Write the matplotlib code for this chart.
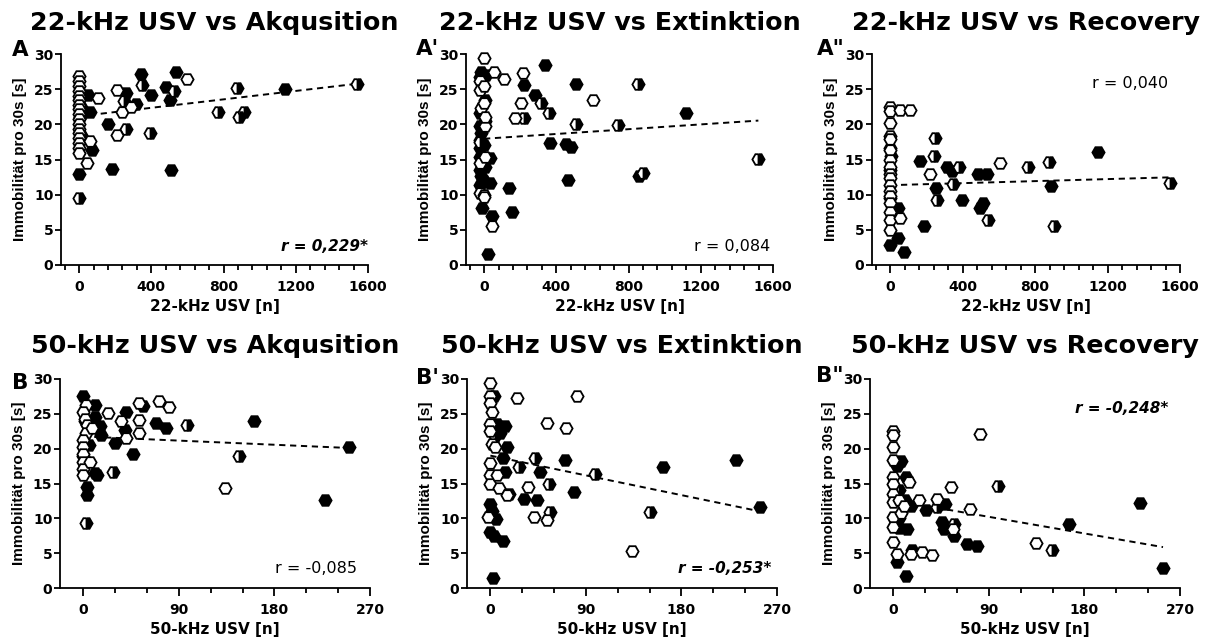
import matplotlib
matplotlib.use("Agg")
import matplotlib.pyplot as plt
import numpy as np

plt.rcParams['font.family'] = ['DejaVu Sans']

# ---------------- data ----------------
# Panel A: 22-kHz USV vs Akquisition
A_filled_x = [0, 50, 60, 72, 161, 180, 259, 317, 345, 400, 483, 501, 510, 538, 1140, 8, 12, 5]
A_filled_y = [12.9, 24.2, 21.8, 16.3, 20.1, 13.6, 24.4, 22.9, 27.2, 24.1, 25.3, 23.4, 13.5, 27.5, 25.0, 22.5, 18.5, 21.0]
A_open_x = [0, 0, 0, 0, 0, 0, 0, 0, 0, 0, 0, 0, 0, 0, 0, 0, 0, 105, 60, 46, 211, 211, 240, 290, 598]
A_open_y = [26.9, 26.1, 25.4, 24.7, 24.0, 23.4, 22.8, 22.2, 21.4, 20.8, 20.1, 19.4, 18.8, 18.0, 17.3, 16.6, 15.9,
            23.8, 17.6, 14.5, 24.9, 18.5, 21.8, 22.5, 26.4]
A_half_x = [0, 248, 259, 350, 391, 528, 767, 877, 883, 914, 1541]
A_half_y = [9.5, 23.3, 19.3, 25.6, 18.7, 24.8, 21.8, 25.1, 21.0, 21.8, 25.8]

# Panel A': 22-kHz USV vs Extinktion
A2_filled_x = [-15, -20, -20, -20, -15, -20, -20, -20, -20, -15, -20, -10, 10, 5, 5, 0, 5, 0,
               33, 33, 46, 20, 138, 152, 222, 284, 336, 363, 455, 483, 464, 510, 859, 1116]
A2_filled_y = [27.5, 26.8, 21.6, 19.7, 18.7, 17.8, 16.6, 15.4, 13.5, 12.6, 11.4, 8.1, 27.0, 23.5, 20.5, 17.0, 14.0, 12.0,
               15.2, 11.6, 6.9, 1.6, 10.9, 7.6, 25.6, 24.2, 28.5, 17.3, 17.2, 16.8, 12.1, 25.7, 12.6, 21.6]
A2_open_x = [0, -20, -20, -15, -20, -20, 0, 5, 0, 5, 5, 57, 112, 46, 171, 217, 207, 602, 0, 0]
A2_open_y = [29.4, 26.2, 24.9, 22.3, 14.5, 10.2, 10.0, 19.7, 23.0, 21.1, 15.4, 27.5, 26.4, 5.5, 20.9, 27.3, 23.1, 23.5, 25.5, 9.7]
A2_half_x = [222, 317, 360, 507, 740, 850, 881, 1519, -20]
A2_half_y = [20.9, 23.0, 21.6, 20.1, 19.9, 25.8, 13.1, 15.1, 17.5]

# Panel A'': 22-kHz USV vs Recovery
A3_open_x = [0, 0, 0, 0, 0, 0, 0, 0, 0, 0, 0, 0, 0, 0, 0, 0, 0, 55, 110, 55, 221, 607]
A3_open_y = [22.4, 21.9, 20.2, 18.3, 17.9, 16.4, 15.0, 14.0, 13.0, 12.3, 11.4, 10.5, 9.8, 8.8, 7.6, 6.4, 5.0,
             22.1, 22.1, 6.7, 12.9, 14.5]
A3_filled_x = [0, 0, 0, 0, 5, 46, 46, 74, 167, 186, 254, 312, 340, 395, 487, 533, 496, 515, 886, 1149]
A3_filled_y = [2.9, 16.7, 9.5, 13.5, 15.5, 8.1, 3.8, 1.8, 14.8, 5.6, 11.0, 14.0, 13.3, 9.3, 13.0, 13.0, 8.1, 8.8, 11.3, 16.0]
A3_half_x = [248, 243, 261, 349, 382, 539, 763, 879, 906, 1544]
A3_half_y = [18.1, 15.5, 9.3, 11.5, 14.0, 6.4, 14.0, 14.7, 5.5, 11.7]

# Panel B: 50-kHz USV vs Akquisition
B_filled_x = [0, 11, 11, 15.5, 17, 3.7, 3.7, 11, 12.4, 29.5, 39, 40, 46.6, 56, 68, 77.6, 161, 228, 250, 2, 5, 0]
B_filled_y = [27.5, 26.2, 24.6, 23.2, 22.0, 14.5, 13.3, 16.5, 16.2, 20.8, 22.7, 25.2, 19.3, 26.1, 23.7, 22.9, 23.9, 12.6, 20.3, 24.0, 20.5, 19.0]
B_open_x = [2.5, 0, 2, 3.7, 2.5, 0, 0, 0, 0, 0, 0, 6, 23, 35.7, 40, 52.8, 52.8, 52, 71, 80.7, 133.5, 8]
B_open_y = [26.2, 25.2, 24.3, 23.4, 22.2, 21.3, 20.2, 19.2, 18.1, 17.1, 16.2, 18.1, 25.1, 23.9, 21.5, 26.6, 24.1, 22.2, 26.8, 26.0, 14.4, 23.0]
B_half_x = [2.5, 28, 97.8, 147]
B_half_y = [9.4, 16.7, 23.4, 19.0]

# Panel B': 50-kHz USV vs Extinktion
B2_open_x = [0, 0, 0, 2, 0, 0, 2, 0, 0, 0, -2, 4.7, 6.3, 7.8, 15.7, 25.1, 35.5, 40.8, 53.4, 53.4, 71.3, 81.6, 133]
B2_open_y = [29.4, 27.6, 26.6, 25.2, 23.5, 22.6, 20.6, 17.9, 16.2, 15.0, 10.2, 20.3, 16.2, 14.3, 13.3, 27.3, 14.5, 10.2, 23.7, 9.7, 23.0, 27.6, 5.3]
B2_filled_x = [3, 6.3, 9.4, 14.1, 15.7, 11.6, 14.1, 0, 2, 0, 3, 5.3, 11.6, 2.2, 17.3, 31.4, 44, 47, 70, 78.5, 163, 231, 254]
B2_filled_y = [27.6, 23.5, 22.3, 23.2, 20.3, 18.6, 16.7, 12.1, 11.1, 8.0, 7.5, 9.9, 6.8, 1.5, 13.5, 12.8, 12.6, 16.7, 18.4, 13.8, 17.3, 18.4, 11.6]
B2_half_x = [26.7, 42.4, 55, 56.5, 98.9, 150, 4]
B2_half_y = [17.4, 18.6, 15.0, 10.9, 16.4, 10.9, 21.8]

# Panel B'': 50-kHz USV vs Recovery
B3_open_x = [0, 0, 0, 0, 0, 0, 0, 0, 0, 0, 0, 3.8, 5.3, 14.7, 16.3, 27.2, 36.6, 7.5, 10, 24, 41, 54, 56, 72, 82, 134]
B3_open_y = [22.6, 21.9, 20.2, 18.4, 15.9, 15.0, 13.5, 12.3, 10.2, 8.7, 6.6, 4.9, 12.6, 15.2, 4.9, 5.2, 4.7, 10.7, 11.8, 12.6, 12.8, 14.5, 8.5, 11.4, 22.1, 6.4]
B3_filled_x = [6.9, 3, 11.6, 5.3, 5.3, 12.5, 3.1, 11.6, 17.9, 16.3, 11, 31, 49, 46, 47.6, 57, 69, 79, 165, 232, 254]
B3_filled_y = [18.3, 17.5, 15.9, 10.1, 8.6, 8.5, 3.7, 1.7, 5.4, 11.8, 12.6, 11.2, 12.1, 9.5, 8.5, 7.5, 6.3, 6.0, 9.2, 12.2, 2.8]
B3_half_x = [41, 57, 99, 149, 5]
B3_half_y = [11.6, 9.2, 14.7, 5.4, 14.0]

# regression lines: intercept, slope
fit_intercept = [21.15, 17.95, 11.35, 21.75, 19.0, 12.6]
fit_slope = [0.0030, 0.0017, 0.00072, -0.0066, -0.0315, -0.0265]

titles = ["22-kHz USV vs Akqusition", "22-kHz USV vs Extinktion", "22-kHz USV vs Recovery",
          "50-kHz USV vs Akqusition", "50-kHz USV vs Extinktion", "50-kHz USV vs Recovery"]
letters = ["A", "A'", 'A"', "B", "B'", 'B"']
r_texts = ["r = 0,229*", "r = 0,084", "r = 0,040", "r = -0,085", "r = -0,253*", "r = -0,248*"]
r_signif = [True, False, False, False, True, True]
xlabels = ["22-kHz USV [n]"] * 3 + ["50-kHz USV [n]"] * 3
ylabel = "Immobilität pro 30s [s]"
x_ticks_top = [0, 400, 800, 1200, 1600]
x_ticks_bottom = [0, 90, 180, 270]
y_ticks = [0, 5, 10, 15, 20, 25, 30]

panels = [
    (A_filled_x, A_filled_y, A_open_x, A_open_y, A_half_x, A_half_y),
    (A2_filled_x, A2_filled_y, A2_open_x, A2_open_y, A2_half_x, A2_half_y),
    (A3_filled_x, A3_filled_y, A3_open_x, A3_open_y, A3_half_x, A3_half_y),
    (B_filled_x, B_filled_y, B_open_x, B_open_y, B_half_x, B_half_y),
    (B2_filled_x, B2_filled_y, B2_open_x, B2_open_y, B2_half_x, B2_half_y),
    (B3_filled_x, B3_filled_y, B3_open_x, B3_open_y, B3_half_x, B3_half_y),
]

# ---------------- layout ----------------
W, H = 1217, 644
fig = plt.figure(figsize=(W / 100, H / 100), dpi=100)
fig.patch.set_facecolor("white")

# (left, right, top, bottom) in pixels
boxes = [(61, 368, 54, 265), (466, 773, 54, 265), (872, 1180, 54, 265),
         (60, 370, 379, 588), (467, 777, 379, 588), (870, 1180, 379, 588)]
letter_pos = [(12, 56), (416, 55), (817, 55), (12, 389), (416, 384), (816, 382)]
r_pos = [(1600, 2.0, 'right'), (1583, 2.0, 'right'), (1534, 25.2, 'right'),
         (258, 2.1, 'right'), (265, 2.1, 'right'), (259, 25.1, 'right')]

mk = dict(ls='none', marker='H', ms=8.8, mew=1.3, mec='black', clip_on=False)

for i, (fx, fy, ox, oy, hx, hy) in enumerate(panels):
    l, r, t, b = boxes[i]
    ax = fig.add_axes([l / W, (H - b) / H, (r - l) / W, (b - t) / H])
    top = i < 3
    ax.set_ylim(0, 30)
    if top:
        ax.set_xlim(-100, 1600)
        ax.set_xticks(x_ticks_top)
        ax.set_xticks(np.arange(-80, 1601, 80), minor=True)
    else:
        ax.set_xlim(-22, 270)
        ax.set_xticks(x_ticks_bottom)
        ax.set_xticks(np.arange(30, 271, 30), minor=True)
    ax.set_yticks(y_ticks)
    for s in ['top', 'right']:
        ax.spines[s].set_visible(False)
    for s in ['left', 'bottom']:
        ax.spines[s].set_linewidth(1.3)
    ax.tick_params(axis='x', which='major', length=6, width=1.3, pad=4.5, labelsize=10)
    ax.tick_params(axis='x', which='minor', length=3.8, width=1.3)
    ax.tick_params(axis='y', which='major', length=4, width=1.3, pad=1.5, labelsize=10)
    for lab in ax.get_xticklabels() + ax.get_yticklabels():
        lab.set_fontweight('bold')

    # regression line
    allx = np.array(list(fx) + list(ox) + list(hx), dtype=float)
    xs = np.array([max(allx.min(), 0), allx.max()])
    ax.plot(xs, fit_intercept[i] + fit_slope[i] * xs, color='black', lw=1.4,
            ls=(0, (3.2, 2.4)), zorder=1)

    ax.plot(fx, fy, mfc='black', zorder=2, **mk)
    ax.plot(hx, hy, mfc='white', mfcalt='black', fillstyle='left', zorder=3, **mk)
    ax.plot(ox, oy, mfc='white', zorder=4, **mk)

    ax.set_title(titles[i], fontsize=18.3, fontweight='bold', pad=17 if top else 19)
    ax.set_xlabel(xlabels[i], fontsize=11, fontweight='bold', labelpad=4)
    ax.set_ylabel(ylabel, fontsize=11, fontweight='bold', family='Liberation Sans')
    ax.yaxis.set_label_coords(-34 / (r - l), 0.5)

    rx, ry, ha = r_pos[i]
    if r_signif[i]:
        ax.text(rx, ry, r_texts[i], ha=ha, va='baseline', fontsize=11,
                fontweight='bold', fontstyle='italic')
    else:
        ax.text(rx, ry, r_texts[i], ha=ha, va='baseline', fontsize=11.5)

    lx, ly = letter_pos[i]
    fig.text(lx / W, 1 - ly / H, letters[i], fontsize=15.5, fontweight='bold',
             ha='left', va='baseline')

fig.savefig("out.png", dpi=100)
